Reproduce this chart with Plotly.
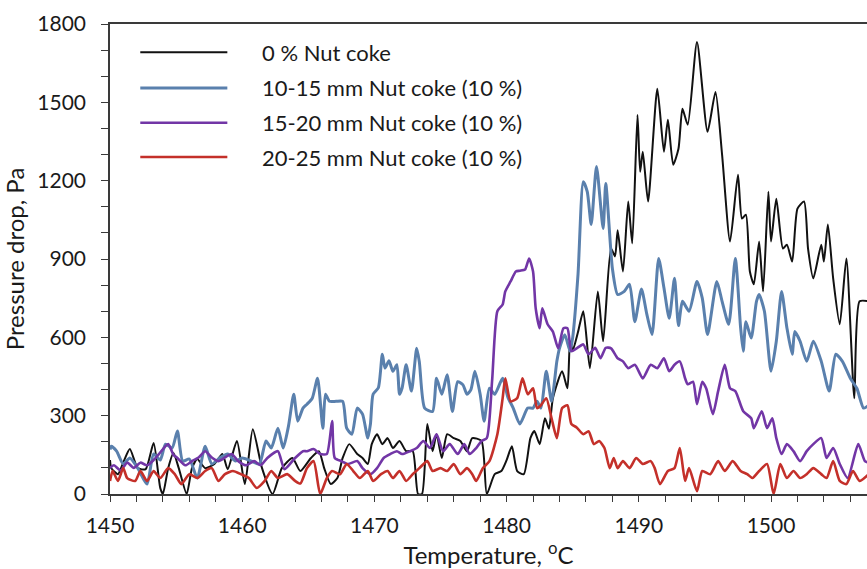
import plotly.graph_objects as go

# ---- data ----
black_t = [1450.0,1450.1,1450.6,1451.0,1451.5,1452.1,1452.7,1453.3,1453.8,1454.0,1454.4,1454.8,1455.2,1455.8,1456.2,1456.6,1457.2,1457.9,1458.5,1458.9,1459.6,1460.2,1460.8,1461.5,1462.3,1463.0,1463.8,1464.4,1465.2,1465.8,1466.2,1466.7,1467.2,1467.6,1468.1,1468.7,1469.1,1469.5,1469.8,1470.2,1470.6,1471.0,1471.4,1471.9,1472.4,1472.9,1473.3,1473.6,1474.0,1474.4,1474.7,1475.1,1475.5,1476.0,1476.5,1477.0,1477.4,1478.1,1478.5,1479.1,1479.6,1480.0,1480.4,1480.8,1481.3,1481.8,1482.1,1482.5,1482.9,1483.2,1483.5,1484.2,1484.6,1484.8,1485.0,1485.4,1485.8,1486.3,1486.9,1487.3,1487.9,1488.2,1488.4,1488.8,1489.2,1489.5,1489.9,1490.1,1490.3,1490.7,1491.4,1491.9,1492.2,1492.6,1493.0,1493.3,1493.7,1494.4,1495.2,1495.8,1496.3,1496.9,1497.5,1497.8,1498.1,1498.4,1498.7,1499.1,1499.4,1499.8,1500.0,1500.4,1500.9,1501.2,1501.6,1502.0,1502.5,1502.8,1503.2,1503.8,1504.0,1504.3,1504.7,1505.2,1505.7,1506.3,1506.7,1507.4]
black_p = [130,99,76,120,172,99,95,195,23,0,99,157,99,0,99,134,99,115,153,95,203,38,248,99,0,99,138,88,138,164,99,38,61,138,191,153,138,115,191,229,191,214,176,203,164,164,0,0,268,164,229,138,229,214,203,164,214,203,0,76,88,130,183,88,76,214,241,191,290,250,367,470,405,585,550,620,700,482,776,585,940,910,1010,852,1120,960,1452,1234,1311,1120,1552,1311,1433,1261,1322,1475,1414,1731,1387,1540,1299,967,1223,1055,1070,852,803,967,776,1158,967,1131,940,955,890,1093,1120,940,826,955,890,1032,826,650,902,367,738,738]

blue_t = [1450.0,1450.1,1450.5,1451.0,1451.5,1452.1,1452.8,1453.3,1453.8,1454.2,1454.7,1455.1,1455.5,1456.0,1456.6,1457.2,1457.7,1458.3,1458.9,1459.5,1460.0,1460.7,1461.3,1461.8,1462.2,1462.7,1463.1,1463.5,1463.9,1464.2,1464.6,1464.9,1465.3,1465.7,1466.1,1466.3,1466.6,1467.1,1467.6,1467.9,1468.3,1468.7,1469.1,1469.5,1469.7,1469.9,1470.3,1470.6,1470.8,1471.1,1471.4,1471.7,1471.9,1472.1,1472.4,1472.8,1473.2,1473.4,1473.8,1474.4,1474.7,1475.1,1475.5,1475.9,1476.3,1476.7,1477.0,1477.3,1477.6,1478.0,1478.3,1478.7,1479.1,1479.7,1480.1,1480.5,1481.0,1481.6,1482.0,1482.3,1482.6,1483.0,1483.4,1483.8,1484.0,1484.4,1484.8,1485.0,1485.4,1485.8,1486.1,1486.4,1486.8,1487.3,1487.5,1488.0,1488.4,1488.9,1489.3,1489.7,1490.2,1490.6,1491.0,1491.5,1491.9,1492.3,1492.7,1493.0,1493.3,1493.8,1494.4,1494.8,1495.2,1495.9,1496.3,1496.8,1497.3,1497.7,1497.9,1498.1,1498.5,1498.9,1499.1,1499.5,1500.0,1500.4,1500.8,1501.2,1501.6,1501.8,1502.2,1502.7,1503.2,1503.8,1504.4,1504.9,1505.4,1506.0,1506.5,1507.0,1507.4]
blue_p = [170,183,164,115,138,99,38,153,130,191,176,241,126,134,61,183,115,138,153,126,138,126,115,203,176,252,176,260,382,279,329,344,367,443,252,382,355,355,355,252,229,329,306,214,268,382,407,535,482,510,470,495,382,407,495,394,558,505,329,316,443,382,457,316,430,418,382,400,470,382,279,405,382,443,370,329,268,329,329,355,329,470,355,508,558,610,547,600,840,1196,1158,1032,1254,1017,1189,864,764,776,803,660,785,690,611,902,790,673,826,645,738,700,814,750,611,814,738,650,902,637,547,660,597,738,764,700,470,585,776,637,535,622,585,508,585,508,394,535,508,443,404,329,340]

purple_t = [1450.0,1450.3,1450.8,1451.3,1451.8,1452.3,1452.8,1453.3,1453.7,1454.4,1454.8,1455.1,1455.7,1456.2,1456.7,1457.2,1457.7,1458.2,1458.7,1459.2,1459.7,1460.3,1460.9,1461.4,1461.9,1462.7,1463.2,1464.0,1464.6,1464.9,1465.4,1465.9,1466.4,1466.8,1467.0,1467.5,1468.0,1468.7,1469.1,1469.7,1470.2,1470.7,1471.2,1471.7,1472.1,1472.7,1473.2,1473.7,1474.2,1474.7,1475.2,1475.7,1476.3,1476.8,1477.2,1477.7,1478.1,1478.5,1478.9,1479.3,1479.7,1479.9,1480.3,1480.7,1481.0,1481.4,1481.7,1482.0,1482.2,1482.5,1482.7,1483.1,1483.5,1483.9,1484.3,1484.6,1484.9,1485.3,1485.8,1486.2,1486.7,1487.1,1487.5,1487.9,1488.4,1488.8,1489.2,1489.7,1490.3,1490.9,1491.4,1491.9,1492.3,1492.7,1493.1,1493.5,1493.7,1494.1,1494.4,1494.8,1495.1,1495.6,1496.0,1496.5,1496.9,1497.3,1497.9,1498.5,1498.7,1499.3,1499.7,1500.1,1500.4,1500.8,1501.2,1501.7,1502.2,1502.7,1503.2,1503.8,1504.2,1504.7,1505.2,1505.8,1506.6,1507.1,1507.4]
purple_p = [100,110,90,120,100,120,110,130,153,191,150,138,110,126,140,164,140,126,140,153,126,110,126,110,138,164,95,138,164,164,172,153,153,279,138,126,115,126,99,76,99,138,153,164,153,164,176,203,176,229,164,191,153,191,153,176,203,214,432,700,726,776,814,852,855,860,902,852,711,635,711,650,622,558,635,635,547,558,573,535,560,520,560,558,520,508,482,495,443,495,482,520,470,495,508,443,420,430,344,430,404,306,394,495,405,394,317,290,252,317,252,290,214,153,191,164,126,164,191,214,138,176,115,61,191,126,120]

red_t = [1450.0,1450.2,1450.6,1451.0,1451.3,1451.9,1452.3,1452.8,1453.3,1453.8,1454.4,1454.9,1455.4,1456.0,1456.6,1457.2,1457.7,1458.2,1458.7,1459.3,1459.9,1460.5,1461.1,1461.7,1462.2,1462.7,1463.4,1464.0,1464.4,1464.9,1465.4,1465.9,1466.4,1466.8,1467.4,1467.9,1468.4,1468.9,1469.5,1469.9,1470.5,1471.0,1471.4,1471.9,1472.4,1472.9,1473.4,1474.0,1474.4,1475.0,1475.5,1476.0,1476.5,1477.0,1477.4,1477.7,1478.2,1478.7,1479.3,1479.7,1479.9,1480.3,1480.8,1481.2,1481.6,1482.0,1482.3,1482.6,1483.0,1483.4,1483.8,1484.2,1484.6,1484.9,1485.3,1485.8,1486.2,1486.6,1487.0,1487.4,1487.8,1488.1,1488.4,1488.8,1489.3,1489.8,1490.3,1490.9,1491.2,1491.6,1492.2,1492.7,1493.1,1493.5,1493.8,1494.4,1494.8,1495.4,1496.0,1496.5,1497.1,1497.7,1498.2,1498.6,1499.1,1499.7,1500.2,1500.7,1501.2,1501.7,1502.2,1502.7,1503.2,1503.8,1504.2,1504.7,1505.2,1505.7,1506.2,1506.7,1507.4]
red_p = [50,88,50,99,61,50,88,50,88,61,99,76,38,76,61,88,99,50,76,88,76,61,23,50,88,61,76,50,40,99,126,0,61,88,76,115,88,61,88,50,76,88,61,88,50,76,99,126,88,99,88,115,76,99,76,50,99,126,229,367,443,355,367,443,382,405,329,340,367,290,214,329,340,268,255,229,240,191,203,176,99,138,99,126,99,138,115,126,99,38,88,99,176,50,99,11,88,76,126,88,126,88,76,61,88,115,0,115,61,88,61,76,99,76,61,126,50,38,88,50,76]

series_names = ["0 % Nut coke", "10-15 mm Nut coke (10 %)",
                "15-20 mm Nut coke (10 %)", "20-25 mm Nut coke (10 %)"]
series_colors = ["#111111", "#5a80ad", "#7236a6", "#c4302a"]
series_widths = [2, 3, 2.6, 2.6]

x_ticks = [1450, 1460, 1470, 1480, 1490, 1500]
y_ticks = [0, 300, 600, 900, 1200, 1500, 1800]

FONT = "Lato, 'Open Sans', sans-serif"
TXT = "#1a1a1a"

fig = go.Figure()
data = [(black_t, black_p), (blue_t, blue_p), (purple_t, purple_p), (red_t, red_p)]
for (t, p), name, col, w in zip(data, series_names, series_colors, series_widths):
    fig.add_trace(go.Scatter(x=t, y=p, mode="lines", name=name,
                             line=dict(color=col, width=w, shape="spline", smoothing=0.6),
                             showlegend=False))

# manual legend (inside the plot, top-left)
leg_y = [0.940, 0.864, 0.790, 0.717]
for name, col, w, yy in zip(series_names, series_colors, series_widths, leg_y):
    fig.add_shape(type="line", xref="paper", yref="paper",
                  x0=0.040, x1=0.155, y0=yy, y1=yy,
                  line=dict(color=col, width=w))
    fig.add_annotation(xref="paper", yref="paper", x=0.198, y=yy, text=name,
                       showarrow=False, xanchor="left", yanchor="middle",
                       font=dict(family=FONT, size=22, color=TXT))

axis_line = "#3a3a3a"
fig.update_xaxes(range=[1450, 1507.26], tickvals=x_ticks, ticks="outside", ticklen=6,
                 tickwidth=1.3, tickcolor=axis_line, showline=True, linecolor=axis_line,
                 linewidth=1.5, mirror=True, showgrid=False, zeroline=False,
                 ticklabelstandoff=6,
                 minor=dict(dtick=2, ticks="outside", ticklen=6, tickwidth=1.3, tickcolor=axis_line),
                 tickfont=dict(family=FONT, size=21, color=TXT),
                 title=dict(text="Temperature, <sup>o</sup>C", standoff=4,
                            font=dict(family=FONT, size=24, color=TXT)))
fig.update_yaxes(range=[0, 1800], tickvals=y_ticks, ticks="outside", ticklen=7,
                 tickwidth=1.3, tickcolor=axis_line, showline=True, linecolor=axis_line,
                 linewidth=1.5, showgrid=False, zeroline=False,
                 ticklabelstandoff=11,
                 minor=dict(dtick=100, ticks="outside", ticklen=7, tickwidth=1.3, tickcolor=axis_line),
                 tickfont=dict(family=FONT, size=21, color=TXT),
                 title=dict(text="Pressure drop, Pa", standoff=8,
                            font=dict(family=FONT, size=24, color=TXT)))

fig.update_layout(width=867, height=569, margin=dict(l=110, r=0, t=24, b=75),
                  plot_bgcolor="white", paper_bgcolor="white", showlegend=False)

fig.write_html("out.html", config={"displayModeBar": False},
               post_script="document.body.style.margin='0';document.body.style.overflow='hidden';")
